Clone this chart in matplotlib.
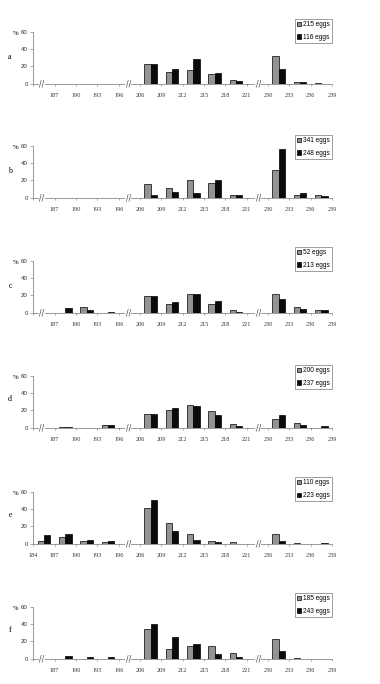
#!/usr/bin/env python3
"""
Egg size distributions, six panels (a-f), two samples per panel
"""

import matplotlib
matplotlib.use('Agg')
import matplotlib.pyplot as plt
from matplotlib.patches import Patch

# class boundaries shown under the x axis (14 slots, slots 4 and 10 are axis breaks)
BOUNDS = ['184', '187', '190', '193', '196', '206', '209', '212', '215',
          '218', '221', '230', '233', '236', '239']

PANELS = ['a', 'b', 'c', 'd', 'e', 'f']
EGGS_GREY = ['215 eggs', '341 eggs', '52 eggs', '200 eggs', '110 eggs', '185 eggs']
EGGS_BLACK = ['116 eggs', '248 eggs', '213 eggs', '237 eggs', '223 eggs', '243 eggs']

# % per slot
A_GREY = [0, 0, 0, 0, 0, 23, 13.5, 16, 11.5, 3.8, 0, 31.5, 1.4, 0.5]
A_BLACK = [0, 0, 0, 0, 0, 23, 17.3, 28.5, 12.3, 3.5, 0, 17.3, 1.4, 0]
B_GREY = [0, 0, 0, 0, 0, 15.7, 11, 20.8, 16.9, 2.7, 0, 31.4, 2.7, 2.7]
B_BLACK = [0, 0, 0, 0, 0, 3.5, 6.7, 5.9, 20.8, 3.5, 0, 56, 5.9, 1.5]
C_GREY = [0, 0, 6.7, 0, 0, 18.8, 9.8, 22, 9.8, 2.7, 0, 22, 6.3, 2.7]
C_BLACK = [0, 5.9, 3.5, 0.8, 0, 18.8, 12.9, 21.6, 13.7, 0.8, 0, 16, 4.7, 2.7]
D_GREY = [0, 0.6, 0, 2.7, 0, 16, 20, 25.8, 18.8, 4.6, 0, 9.6, 5.4, 0]
D_BLACK = [0, 0.6, 0, 2.7, 0, 16, 23, 25, 14.6, 1.5, 0, 14.6, 2.7, 1.5]
E_GREY = [3, 8, 3, 1.9, 0, 40.7, 23.6, 11.6, 3, 1.5, 0, 11.6, 1, 0]
E_BLACK = [10, 11.6, 4.6, 3, 0, 50.4, 14.3, 4.6, 2.3, 0, 0, 2.7, 0, 1]
F_GREY = [0, 0, 0, 0, 0, 33.8, 11, 15, 15, 6.5, 0, 23, 1, 0]
F_BLACK = [0, 3.5, 2.3, 2.3, 0, 40, 25, 17.3, 6, 1.5, 0, 9, 0, 0]

GREY = [A_GREY, B_GREY, C_GREY, D_GREY, E_GREY, F_GREY]
BLACK = [A_BLACK, B_BLACK, C_BLACK, D_BLACK, E_BLACK, F_BLACK]

# layout in pixels of the 380x684 figure
W, H = 380, 684
AX_LEFT, AX_RIGHT = 33.3, 332
ZERO_Y = [83.7, 197.7, 312.7, 427.7, 543.7, 658.7]
AX_H = 52
LEG_UP = [12.7, 10.7, 13.7, 10.7, 14.6, 13.7]
LETTER_Y = [0.52, 0.51, 0.52, 0.56, 0.56, 0.56]

GREY_COL = '#939393'
BLACK_COL = '#0a0a0a'
AXIS_COL = '#8a8a8a'
TEXT_COL = '#333333'
BAR_W = 0.3


def draw_panel(fig, i):
    bottom = 1 - ZERO_Y[i] / H
    ax = fig.add_axes([AX_LEFT / W, bottom, (AX_RIGHT - AX_LEFT) / W, AX_H / H])
    n = len(GREY[i])
    for k in range(n):
        centre = k + 0.5
        if GREY[i][k] > 0:
            ax.bar(centre - BAR_W / 2, GREY[i][k], width=BAR_W, color=GREY_COL,
                   edgecolor='black', linewidth=0.5)
        if BLACK[i][k] > 0:
            ax.bar(centre + BAR_W / 2, BLACK[i][k], width=BAR_W, color=BLACK_COL,
                   edgecolor='black', linewidth=0.5)

    ax.set_xlim(0, n)
    ax.set_ylim(0, 60)
    ax.set_yticks([0, 20, 40, 60])
    ax.set_xticks(range(len(BOUNDS)))
    labels = list(BOUNDS)
    if PANELS[i] != 'e':
        labels[0] = ''
    ax.set_xticklabels(labels, family='Liberation Serif', fontsize=4.4, color=TEXT_COL)
    for t in ax.get_yticklabels():
        t.set_family('Liberation Sans')
        t.set_fontsize(4.4)
        t.set_color(TEXT_COL)
    ax.tick_params(axis='y', length=2, width=0.5, color=AXIS_COL, pad=2)
    ax.tick_params(axis='x', length=1.5, width=0.5, color=AXIS_COL, pad=5.5)

    for side in ['top', 'right']:
        ax.spines[side].set_visible(False)
    for side in ['left', 'bottom']:
        ax.spines[side].set_color(AXIS_COL)
        ax.spines[side].set_linewidth(0.6)

    # axis break marks
    breaks = [4.45, 10.54] if PANELS[i] == 'e' else [0.39, 4.45, 10.54]
    for bx in breaks:
        ax.text(bx, 0, '//', ha='center', va='center', fontsize=5.5,
                family='DejaVu Sans', color='#444444', clip_on=False,
                bbox=dict(facecolor='white', edgecolor='none', pad=0.2))

    ax.text(-0.061, 0.96, '%', transform=ax.transAxes, ha='center', va='center',
            fontsize=4.8, family='Liberation Serif')
    ax.text(-0.078, LETTER_Y[i], PANELS[i], transform=ax.transAxes, ha='center',
            va='center', fontsize=5.8, family='Liberation Serif')

    handles = [Patch(facecolor=GREY_COL, edgecolor='black', linewidth=0.5),
               Patch(facecolor=BLACK_COL, edgecolor='black', linewidth=0.5)]
    leg = ax.legend(handles, [EGGS_GREY[i], EGGS_BLACK[i]], loc='upper right',
                    bbox_to_anchor=(1.0, 1 + LEG_UP[i] / AX_H), borderaxespad=0,
                    frameon=True, fancybox=False, borderpad=0.35,
                    handlelength=0.6, handleheight=0.6, handletextpad=0.25,
                    labelspacing=0.85, prop={'family': 'Liberation Sans', 'size': 4.7})
    leg.get_frame().set_edgecolor('#555555')
    leg.get_frame().set_linewidth(0.5)
    return ax


def main():
    fig = plt.figure(figsize=(W / 100, H / 100), dpi=100)
    for i in range(len(PANELS)):
        draw_panel(fig, i)
    fig.savefig('out.png', dpi=100)
    plt.close()


if __name__ == '__main__':
    main()
